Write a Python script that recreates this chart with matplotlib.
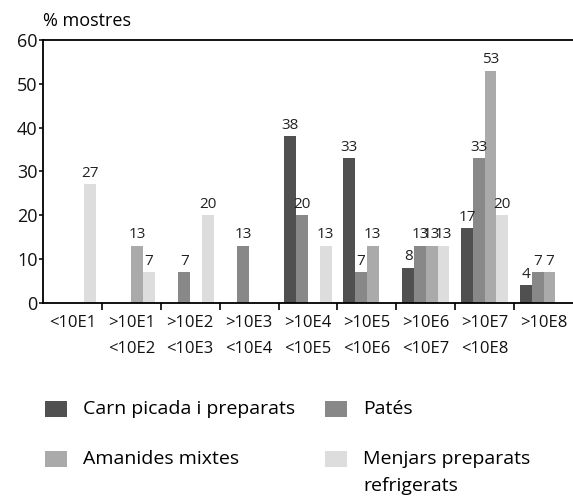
import numpy as np
import matplotlib
matplotlib.use("Agg")
import matplotlib.pyplot as plt
from matplotlib.patches import Rectangle

plt.rcParams["font.family"] = ["Open Sans", "DejaVu Sans"]

categories = ["<10E1", ">10E1\n<10E2", ">10E2\n<10E3", ">10E3\n<10E4", ">10E4\n<10E5",
              ">10E5\n<10E6", ">10E6\n<10E7", ">10E7\n<10E8", ">10E8"]
series_names = ["Carn picada i preparats", "Patés", "Amanides mixtes",
                "Menjars preparats\nrefrigerats"]
carn = [0, 0, 0, 0, 38, 33, 8, 17, 4]
pates = [0, 0, 7, 13, 20, 7, 13, 33, 7]
amanides = [0, 13, 0, 0, 0, 13, 13, 53, 7]
menjars = [27, 7, 20, 0, 13, 0, 13, 20, 0]
series = [carn, pates, amanides, menjars]
colors = ["#505050", "#888888", "#aaaaaa", "#dddddd"]

W, H = 573, 497
fig = plt.figure(figsize=(W / 100, H / 100), dpi=100)
# axes box in pixels: left 43, top 40, bottom 302.7
ax = fig.add_axes([43 / W, 1 - 302.7 / H, 1 - 43 / W, (302.7 - 40) / H])

x = np.arange(len(categories))
w = 0.2
for i, (vals, col) in enumerate(zip(series, colors)):
    pos = x + (i - 1.5) * w
    for p, v in zip(pos, vals):
        if v == 0:
            continue
        ax.bar(p, v, width=w, color=col, linewidth=0)
        ax.annotate(str(v), (p, v), xytext=(0, 2.5), textcoords="offset points",
                    ha="center", va="bottom", fontsize=11, color="#222222")

ax.set_xlim(-0.5, len(categories) - 0.5)
ax.set_ylim(0, 60)
ax.set_yticks(range(0, 61, 10))
ax.tick_params(axis="y", length=3, width=1.2, pad=1, labelsize=13, colors="#111111")

ax.set_xticks(x)
ax.set_xticklabels(categories, linespacing=1.8)
ax.set_xticks(np.arange(0.5, len(categories) - 1, 1), minor=True)
ax.tick_params(axis="x", which="major", length=0, pad=9, labelsize=12, colors="#111111")
ax.tick_params(axis="x", which="minor", length=5, width=1.2, direction="out")

for s in ["left", "bottom", "top"]:
    ax.spines[s].set_linewidth(1.3)
ax.spines["right"].set_visible(False)

fig.text(43 / W, 1 - 21 / H, "% mostres", fontsize=13, va="center", ha="left")

# legend (2 columns, squares 22x16 px); wrapped labels continue 27 px lower
leg_pos = [(45, 401), (325, 401), (45, 451), (325, 451)]
for (lx, ly), name, col in zip(leg_pos, series_names, colors):
    fig.add_artist(Rectangle((lx / W, 1 - (ly + 16) / H), 22 / W, 16 / H,
                             transform=fig.transFigure, color=col, linewidth=0))
    for k, line in enumerate(name.split("\n")):
        fig.text((lx + 38) / W, 1 - (ly + 8 + 27 * k) / H, line, fontsize=14,
                 va="center", ha="left")

fig.savefig("out.png", dpi=100)
